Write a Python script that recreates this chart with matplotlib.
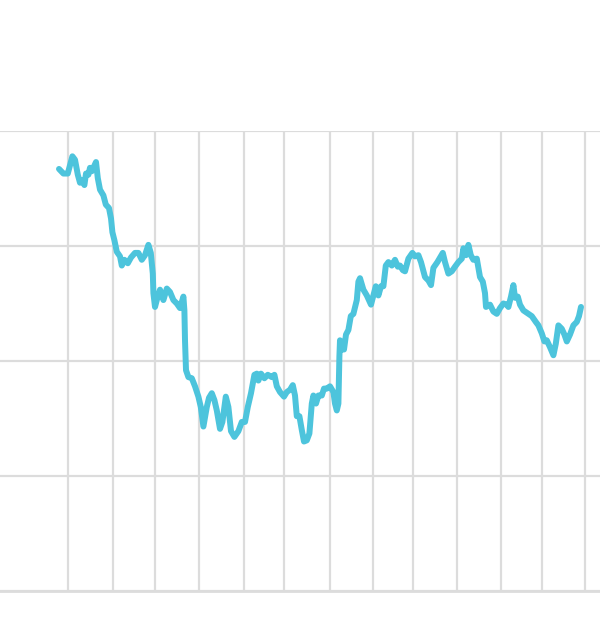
import matplotlib
matplotlib.use("Agg")
import matplotlib.pyplot as plt

# trading day index and price
days = [0, 2.2, 4.4, 5.5, 6.7, 8, 9.4, 10.5, 11.7, 12.7, 13.5, 14.7, 15.5, 16.4, 17.7, 18.5,
        19.4, 20.5, 22.2, 23.4, 25, 26, 26.7, 27.7, 28.9, 30.5, 31.4, 32.7, 34.4, 36, 38,
        39.7, 41.4, 43, 44.7, 45.9, 46.9, 47.2, 48, 49.2, 50.5, 52.2, 53.9, 55.5, 57.2,
        58.9, 60.5, 62.2, 62.7, 63, 63.5, 64.7, 66.4, 68, 69.7, 70.9, 72.2, 73.9, 75,
        76.4, 77.7, 78.9, 80.5, 81.7, 83.4, 84.7, 86, 87.7, 89.7, 91.4, 93, 94.4, 96,
        97.7, 98.9, 99.7, 101, 102.7, 104.4, 106.4, 107.7, 108.9, 110.5, 112.5, 113.9,
        115.5, 116.9, 118, 118.9, 120.2, 121.4, 122.5, 123.9, 125.2, 126.4, 127.2, 128.5,
        129.7, 131.4, 132.5, 133.9, 135.5, 137.2, 138, 138.9, 139.7, 140.2, 140.5, 141.5,
        142.5, 143.5, 144.7, 145.9, 147.2, 148.9, 149.7, 150.5, 152.2, 153.9, 156, 157.2,
        158.4, 159.7, 161, 162.2, 163.4, 164.7, 166.4, 168, 169.4, 170.5, 171.9, 173,
        174.7, 176.7, 178, 179.7, 181, 183, 184.7, 186, 187.2, 189.2, 191.9, 193, 194.7,
        196.4, 198, 199.7, 201.4, 202.2, 203.5, 204.7, 205.9, 207.2, 208.9, 210.5, 211.9,
        213, 213.5, 215.5, 217.2, 218.9, 220.5, 222.2, 223.9, 224.7, 226, 227.2, 228,
        229.4, 230.5, 232.2, 234.7, 236.4, 238.4, 239.7, 241.4, 242.7, 243.9, 245.5,
        247.2, 248.4, 249.7, 251.4, 252.7, 253.9, 255.5, 257.2, 258.9, 260, 261]
price = [76.7, 76.3, 76.3, 77.0, 77.8, 77.5, 76.2, 75.5, 75.7, 75.3, 76.3, 76.2, 76.8, 76.5,
         77.0, 77.3, 75.9, 74.9, 74.4, 73.6, 73.3, 72.4, 71.2, 70.5, 69.5, 69.1, 68.3, 68.8,
         68.5, 69.0, 69.4, 69.4, 68.8, 69.2, 70.1, 69.4, 67.6, 65.9, 64.7, 65.5, 66.2, 65.3,
         66.3, 66.0, 65.3, 65.0, 64.6, 65.6, 64.4, 61.8, 59.2, 58.6, 58.5, 57.8, 56.9, 56.0,
         54.3, 56.0, 56.8, 57.2, 56.6, 55.7, 54.1, 54.7, 56.9, 56.0, 53.9, 53.4, 53.9, 54.7,
         54.7, 56.0, 57.2, 58.8, 58.9, 58.3, 58.9, 58.5, 58.8, 58.6, 58.8, 57.8, 57.3, 56.9,
         57.3, 57.5, 57.9, 57.0, 55.2, 55.2, 54.0, 53.0, 53.1, 53.7, 56.3, 57.0, 56.3, 57.0,
         57.0, 57.6, 57.6, 57.8, 57.3, 56.3, 55.7, 56.3, 60.4, 61.8, 61.0, 61.0, 62.3, 62.7,
         63.9, 64.1, 65.3, 66.9, 67.2, 66.2, 65.7, 64.9, 65.7, 66.5, 65.7, 66.5, 66.5, 68.3,
         68.6, 68.3, 68.8, 68.2, 68.3, 67.9, 67.8, 68.9, 69.4, 69.1, 69.2, 68.6, 67.3, 67.0,
         66.6, 68.1, 68.6, 69.4, 68.6, 67.6, 67.8, 68.2, 68.6, 68.9, 69.8, 69.2, 70.1, 69.2,
         68.8, 68.9, 67.3, 66.9, 65.9, 64.7, 64.9, 64.3, 64.1, 64.6, 65.0, 64.9, 64.7, 65.6,
         66.6, 65.5, 65.6, 64.9, 64.4, 64.1, 63.9, 63.4, 63.1, 62.4, 61.7, 61.8, 61.2, 60.5,
         61.5, 63.1, 62.8, 62.3, 61.7, 62.3, 63.1, 63.4, 63.9, 64.7]

# month starts (in trading days) and price gridlines
month_ticks = [4.5, 27, 48, 70, 92.5, 112.5, 135.5, 157, 177, 199, 221, 241.5, 263]
price_ticks = [40, 50, 60, 70, 80]

fig = plt.figure(figsize=(6, 6.3), dpi=100)
ax = fig.add_axes([0, 39 / 630, 1, 460 / 630])

ax.plot(days, price, color="#4dc4dc", linewidth=4.3,
        solid_joinstyle="round", solid_capstyle="round", zorder=3)

ax.set_xlim(-29.5, 270.5)
ax.set_ylim(40, 80)
ax.set_xticks(month_ticks)
ax.set_yticks(price_ticks)
ax.grid(True, color="#dcdcdc", linewidth=1.6)
ax.tick_params(length=0, labelbottom=False, labelleft=False)
for s in ["top", "right", "left"]:
    ax.spines[s].set_visible(False)
ax.spines["bottom"].set_color("#dcdcdc")
ax.spines["bottom"].set_linewidth(2.0)

fig.savefig("out.png", dpi=100)
